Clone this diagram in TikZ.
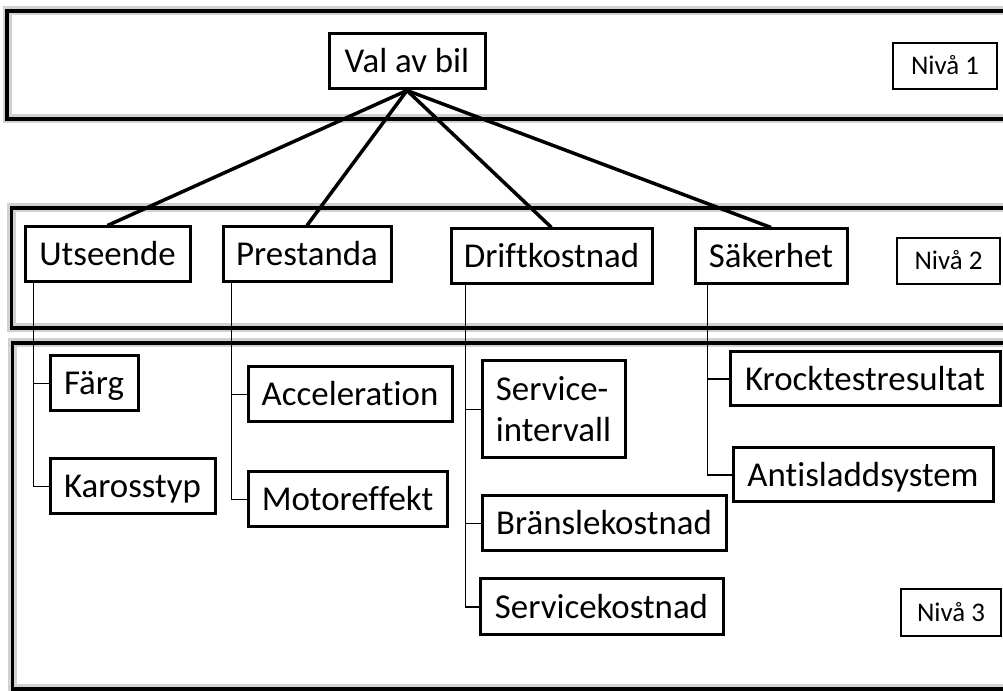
\documentclass[tikz,border=0pt]{standalone}
\usepackage{fontspec}
\setmainfont{Carlito}[Ligatures=NoCommon]
\begin{document}
\begin{tikzpicture}[line join=miter,
  frame/.style={draw=black,line width=3.5bp,preaction={draw=black!18,line width=9bp}},
  box/.style={draw,rectangle,fill=white,line width=3bp,minimum height=55bp,inner sep=0pt,font=\fontsize{35pt}{41pt}\selectfont},
  item/.style={box,text height=22.5bp,text depth=0bp},
  levelbox/.style={draw,rectangle,fill=white,line width=2bp,minimum height=46bp,inner sep=0pt,text height=17.4bp,text depth=0bp,font=\fontsize{27pt}{31pt}\selectfont},
  branch/.style={line width=3.5bp},
  twig/.style={line width=1.4bp},
]
%%
\useasboundingbox (0bp,0bp) rectangle (1003bp,691bp);
  \draw[frame] (7bp,572bp) rectangle (1030bp,680bp);
  \draw[frame] (11.5bp,363bp) rectangle (1030bp,483bp);
  \draw[frame] (12.7bp,2bp) rectangle (1030bp,348bp);
%
  \node (valg) at (407bp,629.5bp) [item,minimum width=156bp] {Val av bil};
  \node (niva1) at (945bp,625bp) [levelbox,minimum width=104bp] {Nivå 1};
  \node (utseende) at (107.5bp,436.5bp) [item,minimum width=165bp] {Utseende};
  \node (prestanda) at (307bp,436.5bp) [item,minimum width=168bp] {Prestanda};
  \node (drift) at (551.5bp,434.5bp) [item,minimum width=201bp] {Driftkostnad};
  \node (sakerhet) at (771bp,434.5bp) [item,minimum width=152bp] {Säkerhet};
  \node (niva2) at (948.5bp,430bp) [levelbox,minimum width=103bp] {Nivå 2};
  \node (farg) at (94bp,307.5bp) [item,minimum width=88bp] {Färg};
  \node (kaross) at (132.5bp,204.5bp) [item,minimum width=165bp] {Karosstyp};
  \node (accel) at (350bp,296.5bp) [item,minimum width=204bp] {Acceleration};
  \node (motor) at (347.5bp,191.5bp) [item,minimum width=199bp] {Motoreffekt};
  \node (intervall) at (553.5bp,281.5bp) [box,minimum width=143bp,minimum height=97bp,align=left] {Service-\\intervall};
  \node (bransle) at (604bp,167.5bp) [item,minimum width=244bp] {Bränslekostnad};
  \node (servkost) at (601.5bp,84bp) [item,minimum width=243bp,minimum height=56bp] {Servicekostnad};
  \node (krock) at (865bp,312bp) [item,minimum width=270bp,minimum height=54bp] {Krocktestresultat};
  \node (antisladd) at (863bp,216bp) [item,minimum width=260bp,minimum height=54bp] {Antisladdsystem};
  \node (niva3) at (951bp,78.5bp) [levelbox,minimum width=100bp,minimum height=47bp] {Nivå 3};
%
  \draw [branch] (valg.south) -- (utseende.north);
  \draw [branch] (valg.south) -- (prestanda.north);
  \draw [branch] (valg.south) -- (drift.north);
  \draw [branch] (valg.south) -- (sakerhet.north);
  \draw [twig] ([xshift=10bp]utseende.south west) |- (farg.west);
  \draw [twig] ([xshift=10bp]utseende.south west) |- (kaross.west);
  \draw [twig] ([xshift=10bp]prestanda.south west) |- (accel.west);
  \draw [twig] ([xshift=10bp]prestanda.south west) |- (motor.west);
  \draw [twig] ([xshift=16bp]drift.south west) |- (intervall.west);
  \draw [twig] ([xshift=16bp]drift.south west) |- (bransle.west);
  \draw [twig] ([xshift=16bp]drift.south west) |- (servkost.west);
  \draw [twig] ([xshift=14bp]sakerhet.south west) |- (krock.west);
  \draw [twig] ([xshift=14bp]sakerhet.south west) |- (antisladd.west);
%
\end{tikzpicture}
\end{document}
